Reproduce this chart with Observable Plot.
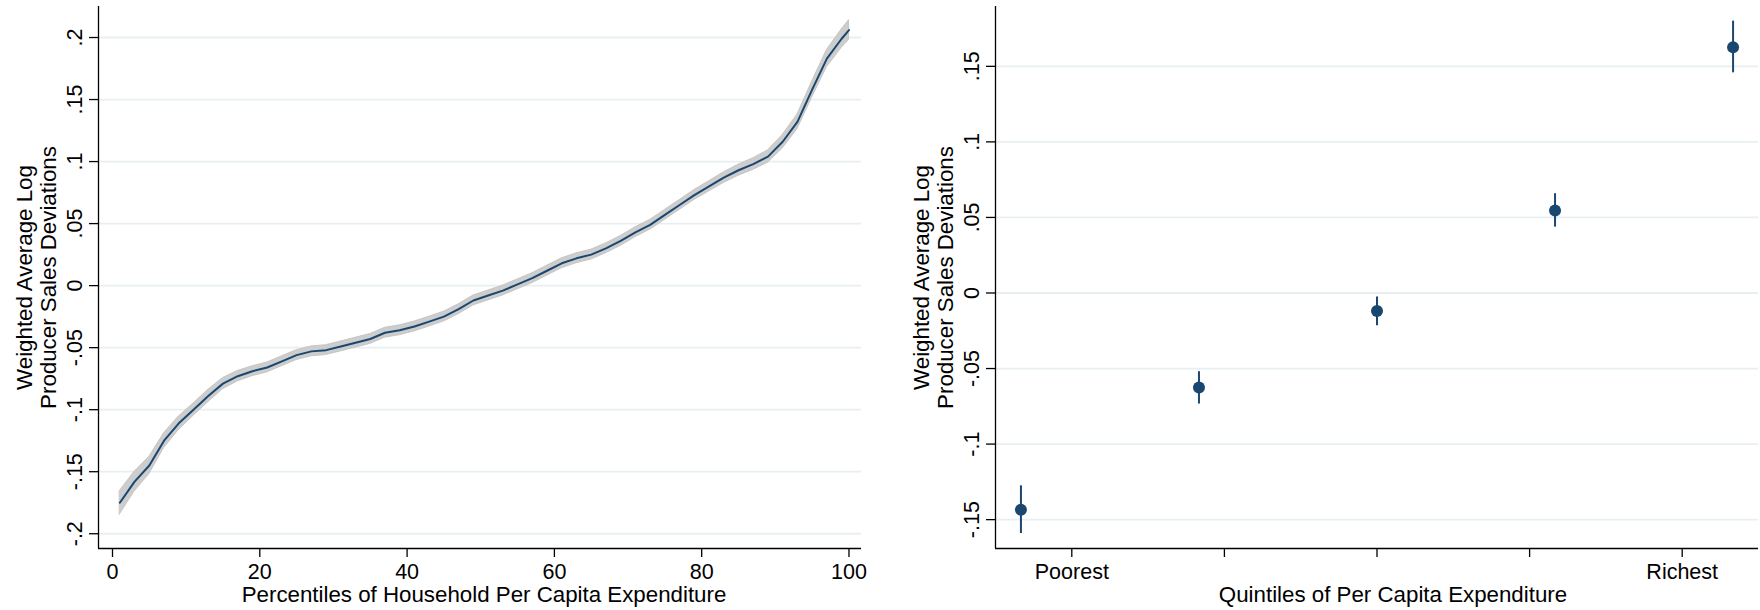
<!DOCTYPE html>
<html><head><meta charset="utf-8">
<script src="https://cdn.jsdelivr.net/npm/d3@7"></script>
<script src="https://cdn.jsdelivr.net/npm/@observablehq/plot@0.6"></script>
<style>
body{margin:0;background:#fff;}
#wrap{position:relative;width:1760px;height:610px;}
#left,#right{position:absolute;top:0;}
#left{left:0}
#right{left:880px}
</style></head><body><div id="wrap"><div id="left"></div><div id="right"></div></div>
<script>
// ---- Left panel data: percentiles of household per-capita expenditure ----
const percentiles = [1,3,5,7,9,11,13,15,17,19,21,23,25,27,29,31,33,35,37,39,41,43,45,47,49,51,53,55,57,59,61,63,65,67,69,71,73,75,77,79,81,83,85,87,89,91,93,95,97,99,100];
const avgDeviation = [-0.175,-0.158,-0.145,-0.125,-0.111,-0.100,-0.089,-0.079,-0.073,-0.069,-0.066,-0.061,-0.056,-0.053,-0.052,-0.049,-0.046,-0.043,-0.038,-0.036,-0.033,-0.029,-0.025,-0.019,-0.012,-0.008,-0.004,0.001,0.006,0.012,0.018,0.022,0.025,0.030,0.036,0.043,0.049,0.057,0.065,0.073,0.080,0.087,0.093,0.098,0.104,0.116,0.132,0.158,0.183,0.199,0.206];
const ciHalfWidth = [0.0095,0.008,0.007,0.006,0.0055,0.005,0.005,0.0045,0.0042,0.004,0.004,0.004,0.004,0.004,0.004,0.004,0.004,0.004,0.004,0.004,0.004,0.004,0.004,0.004,0.004,0.004,0.004,0.004,0.004,0.004,0.004,0.004,0.004,0.004,0.004,0.004,0.004,0.004,0.004,0.004,0.0042,0.0043,0.0045,0.0047,0.005,0.0055,0.006,0.0065,0.007,0.0075,0.008];
const leftXTicks = [0,20,40,60,80,100];
const leftYTicks = [-0.2,-0.15,-0.1,-0.05,0,0.05,0.1,0.15,0.2];
const leftYTickLabels = ["-.2","-.15","-.1","-.05","0",".05",".1",".15",".2"];

// ---- Right panel data: quintiles of per-capita expenditure ----
const quintileIndex = [1,2,3,4,5];
const quintileEstimate = [-0.1435,-0.0625,-0.0119,0.0546,0.1626];
const quintileLow = [-0.1592,-0.0735,-0.0217,0.0436,0.1457];
const quintileHigh = [-0.1276,-0.0521,-0.0026,0.0657,0.1799];
const quintileTickValues = [9/7,15/7,3,27/7,33/7];
const quintileTickLabels = ["Poorest","","","","Richest"];
const rightYTicks = [-0.15,-0.1,-0.05,0,0.05,0.1,0.15];
const rightYTickLabels = ["-.15","-.1","-.05","0",".05",".1",".15"];

const yTitle = "Weighted Average Log\nProducer Sales Deviations";
const leftXTitle = "Percentiles of Household Per Capita Expenditure";
const rightXTitle = "Quintiles of Per Capita Expenditure";

// ---- styling ----
const NAVY = "#1a476f";
const GRID = "#e8eff2";
const FONT = "'Liberation Sans', Arial, sans-serif";
const TICK_FS = 21.5, TITLE_FS = 22.3;

const leftRows = percentiles.map((p,i)=>({p, v: avgDeviation[i], lo: avgDeviation[i]-ciHalfWidth[i], hi: avgDeviation[i]+ciHalfWidth[i]}));
const rightRows = quintileIndex.map((q,i)=>({q, est: quintileEstimate[i], lo: quintileLow[i], hi: quintileHigh[i]}));

const leftXDomain = [-1.9, 101.7], leftYDomain = [-0.2119, 0.225];
const rightXDomain = [6/7, 36/7], rightYDomain = [-0.1691, 0.1896];

const common = {
  width: 880, height: 610, marginTop: 6, marginBottom: 62,
  style: {fontFamily: FONT, color: "#000", background: "transparent", overflow: "visible"}
};

const yTitleMark = () => Plot.text([yTitle], {text: d => d, frameAnchor: "left", textAnchor: "middle", dx: -62, rotate: -90, lineAnchor: "middle", fontSize: TITLE_FS, lineHeight: 1.08});

const leftPlot = Plot.plot({
  ...common, marginLeft: 98, marginRight: 19,
  x: {domain: leftXDomain},
  y: {domain: leftYDomain},
  marks: [
    Plot.ruleY(leftYTicks, {stroke: GRID, strokeWidth: 1.8}),
    Plot.areaY(leftRows, {x: "p", y1: "lo", y2: "hi", fill: "#cdcdcd", stroke: "#bfbfbf", strokeWidth: 0.8}),
    Plot.lineY(leftRows, {x: "p", y: "v", stroke: NAVY, strokeWidth: 2}),
    Plot.axisY({ticks: leftYTicks, tickFormat: d => leftYTickLabels[leftYTicks.indexOf(d)], tickSize: 9, tickPadding: 8, tickRotate: -90, fontSize: TICK_FS, strokeWidth: 1.3, label: null}),
    Plot.axisX({ticks: leftXTicks, tickFormat: d => String(d), tickSize: 9, tickPadding: 6, fontSize: TICK_FS, strokeWidth: 1.3, label: null}),
    Plot.ruleX([leftXDomain[0]], {stroke: "#000", strokeWidth: 1.3}),
    Plot.ruleY([leftYDomain[0]], {stroke: "#000", strokeWidth: 1.3}),
    Plot.text([leftXTitle], {text: d => d, frameAnchor: "bottom", dy: 53, lineAnchor: "bottom", fontSize: TITLE_FS, dx: 4}),
    yTitleMark()
  ]
});

const rightPlot = Plot.plot({
  ...common, marginLeft: 115, marginRight: 2,
  x: {domain: rightXDomain},
  y: {domain: rightYDomain},
  marks: [
    Plot.ruleY(rightYTicks, {stroke: GRID, strokeWidth: 1.8}),
    Plot.ruleX(rightRows, {x: "q", y1: "lo", y2: "hi", stroke: NAVY, strokeWidth: 2}),
    Plot.dot(rightRows, {x: "q", y: "est", r: 6, fill: NAVY, stroke: "none"}),
    Plot.axisY({ticks: rightYTicks, tickFormat: d => rightYTickLabels[rightYTicks.indexOf(d)], tickSize: 9, tickPadding: 8, tickRotate: -90, fontSize: TICK_FS, strokeWidth: 1.3, label: null}),
    Plot.axisX({ticks: quintileTickValues, tickFormat: d => quintileTickLabels[quintileTickValues.indexOf(d)], tickSize: 9, tickPadding: 6, fontSize: TICK_FS, strokeWidth: 1.3, label: null}),
    Plot.ruleX([rightXDomain[0]], {stroke: "#000", strokeWidth: 1.3}),
    Plot.ruleY([rightYDomain[0]], {stroke: "#000", strokeWidth: 1.3}),
    Plot.text([rightXTitle], {text: d => d, frameAnchor: "bottom", dy: 53, lineAnchor: "bottom", fontSize: TITLE_FS, dx: 16}),
    yTitleMark()
  ]
});

document.getElementById("left").appendChild(leftPlot);
document.getElementById("right").appendChild(rightPlot);
</script></body></html>
